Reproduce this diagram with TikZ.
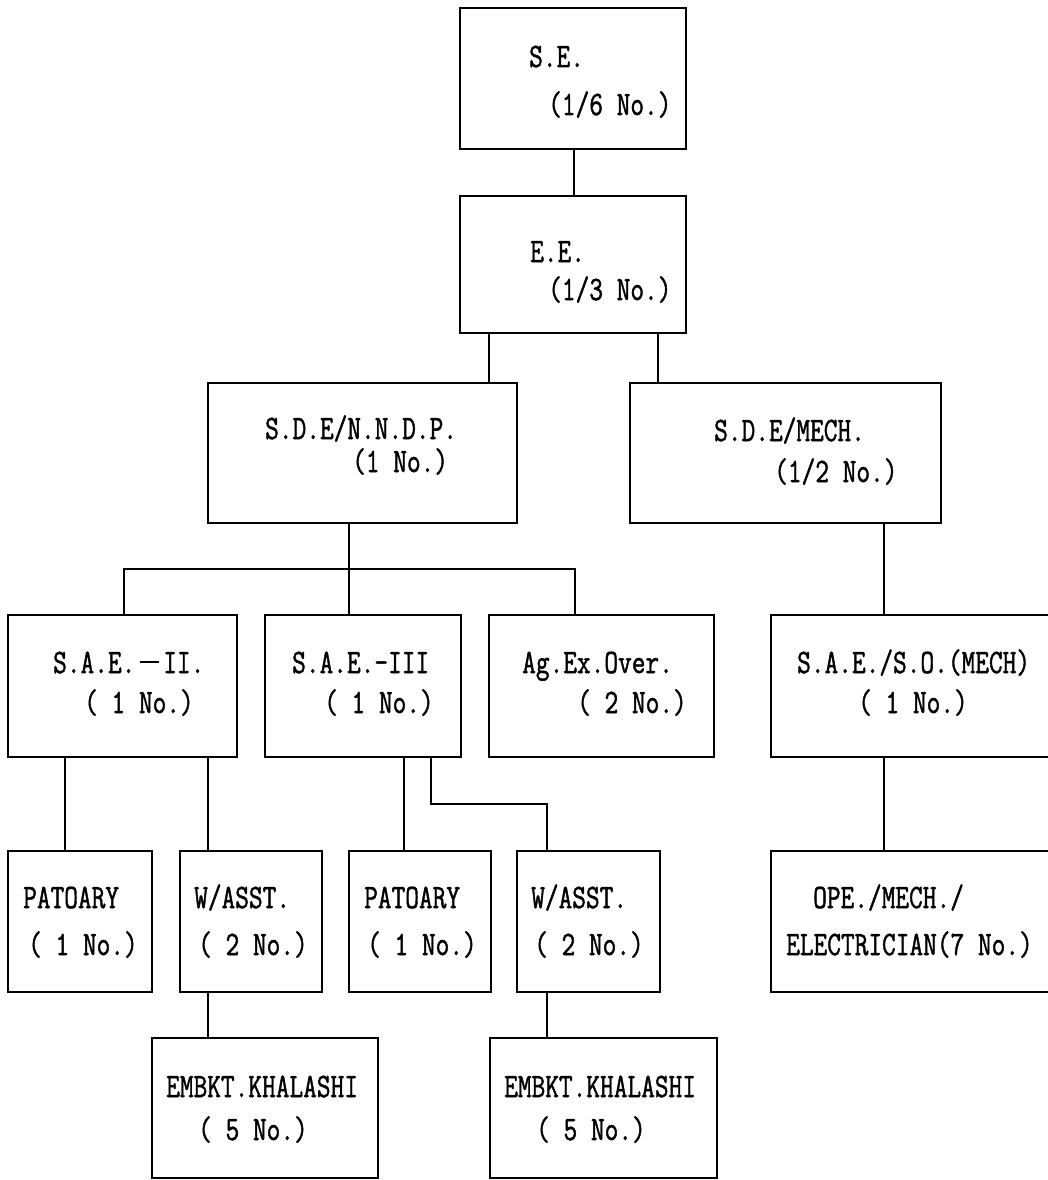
\documentclass[tikz,border=0pt]{standalone}
\usepackage{fontspec}
\usepackage{graphicx}
\newfontfamily\chartmono{Latin Modern Mono}[FakeBold=1.5]
\newcommand{\lbl}[1]{\scalebox{0.95}[1.22]{\chartmono\fontsize{28}{28}\selectfont #1}}
\newcommand{\wdash}{\makebox[1.05em][c]{\rule[0.3em]{0.7em}{0.06em}}}
\begin{document}
\begin{tikzpicture}[x=1pt,y=-1pt,
  box/.style={draw, line width=1.5pt, inner sep=0pt, rectangle},
  txt/.style={anchor=base west, inner sep=0pt},
  conn/.style={line width=1.5pt}]
\clip (0,0) rectangle (1048,1180);
\fill[white] (0,0) rectangle (1048,1180);
% boxes
\node[box, minimum width=226pt, minimum height=141pt] (se) at (573,78.5) {};
\node[box, minimum width=226pt, minimum height=137pt] (ee) at (573,264.5) {};
\node[box, minimum width=309pt, minimum height=140pt] (sdeN) at (362.5,453) {};
\node[box, minimum width=311pt, minimum height=140pt] (sdeM) at (785.5,453) {};
\node[box, minimum width=229pt, minimum height=142pt] (saeII) at (122.5,686) {};
\node[box, minimum width=196pt, minimum height=142pt] (saeIII) at (363,686) {};
\node[box, minimum width=225pt, minimum height=142pt] (ag) at (601.5,686) {};
\node[box, minimum width=299pt, minimum height=142pt] (saeM) at (920.5,686) {};
\node[box, minimum width=144pt, minimum height=141pt] (pat1) at (80,921.5) {};
\node[box, minimum width=142pt, minimum height=141pt] (wa1) at (251,921.5) {};
\node[box, minimum width=142pt, minimum height=141pt] (pat2) at (420,921.5) {};
\node[box, minimum width=143pt, minimum height=141pt] (wa2) at (588.5,921.5) {};
\node[box, minimum width=299pt, minimum height=141pt] (ope) at (920.5,921.5) {};
\node[box, minimum width=226pt, minimum height=140pt] (emb1) at (265,1108) {};
\node[box, minimum width=227pt, minimum height=140pt] (emb2) at (603.5,1108) {};
% texts
\node[txt] (t1a) at (529,67) {\lbl{S.E.}};
\node[txt] (t1b) at (548,115) {\lbl{(1/6 No.)}};
\node[txt] (t2a) at (530,262) {\lbl{E.E.}};
\node[txt] (t2b) at (548,300) {\lbl{(1/3 No.)}};
\node[txt] (t3a) at (265,439) {\lbl{S.D.E/N.N.D.P.}};
\node[txt] (t3b) at (352,472) {\lbl{(1 No.)}};
\node[txt] (t4a) at (714,441) {\lbl{S.D.E/MECH.}};
\node[txt] (t4b) at (774,482) {\lbl{(1/2 No.)}};
\node[txt] (t5a) at (53,673) {\lbl{S.A.E.\wdash II.}};
\node[txt] (t5b) at (84,713) {\lbl{( 1 No.)}};
\node[txt] (t6a) at (292,673) {\lbl{S.A.E.-III}};
\node[txt] (t6b) at (324,713) {\lbl{( 1 No.)}};
\node[txt] (t7a) at (522,673) {\lbl{Ag.Ex.Over.}};
\node[txt] (t7b) at (577,713) {\lbl{( 2 No.)}};
\node[txt] (t8a) at (797,673) {\lbl{S.A.E./S.O.(MECH)}};
\node[txt] (t8b) at (858,713) {\lbl{( 1 No.)}};
\node[txt] (t9a) at (23,908) {\lbl{PATOARY}};
\node[txt] (t9b) at (28,955) {\lbl{( 1 No.)}};
\node[txt] (t10a) at (194,908) {\lbl{W/ASST.}};
\node[txt] (t10b) at (198,955) {\lbl{( 2 No.)}};
\node[txt] (t11a) at (364,908) {\lbl{PATOARY}};
\node[txt] (t11b) at (367,955) {\lbl{( 1 No.)}};
\node[txt] (t12a) at (531,908) {\lbl{W/ASST.}};
\node[txt] (t12b) at (534,955) {\lbl{( 2 No.)}};
\node[txt] (t13a) at (813,908) {\lbl{OPE./MECH./}};
\node[txt] (t13b) at (786,955) {\lbl{ELECTRICIAN(7 No.)}};
\node[txt] (t14a) at (166,1097) {\lbl{EMBKT.KHALASHI}};
\node[txt] (t14b) at (198,1140) {\lbl{( 5 No.)}};
\node[txt] (t15a) at (504,1097) {\lbl{EMBKT.KHALASHI}};
\node[txt] (t15b) at (536,1140) {\lbl{( 5 No.)}};
% connectors
\coordinate (busL) at (124,569);
\coordinate (busR) at (575,569);
\coordinate (elbow1) at (431,804);
\coordinate (elbow2) at (547,804);
\draw[conn] (se.south -| 574,0) -- (ee.north -| 574,0);
\draw[conn] (ee.south -| 489,0) -- (sdeN.north -| 489,0);
\draw[conn] (ee.south -| 658,0) -- (sdeM.north -| 658,0);
\draw[conn] (sdeN.south -| 349,0) -- (349,569);
\draw[conn] (saeII.north -| busL) -- (busL) -- (busR) -- (ag.north -| busR);
\draw[conn] (349,569) -- (saeIII.north -| 349,0);
\draw[conn] (sdeM.south -| 884,0) -- (saeM.north -| 884,0);
\draw[conn] (saeII.south -| 65,0) -- (pat1.north -| 65,0);
\draw[conn] (saeII.south -| 208,0) -- (wa1.north -| 208,0);
\draw[conn] (saeIII.south -| 404,0) -- (pat2.north -| 404,0);
\draw[conn] (saeIII.south -| elbow1) -- (elbow1) -- (elbow2) -- (wa2.north -| elbow2);
\draw[conn] (saeM.south -| 884,0) -- (ope.north -| 884,0);
\draw[conn] (wa1.south -| 208,0) -- (emb1.north -| 208,0);
\draw[conn] (wa2.south -| 547,0) -- (emb2.north -| 547,0);
\end{tikzpicture}
\end{document}
